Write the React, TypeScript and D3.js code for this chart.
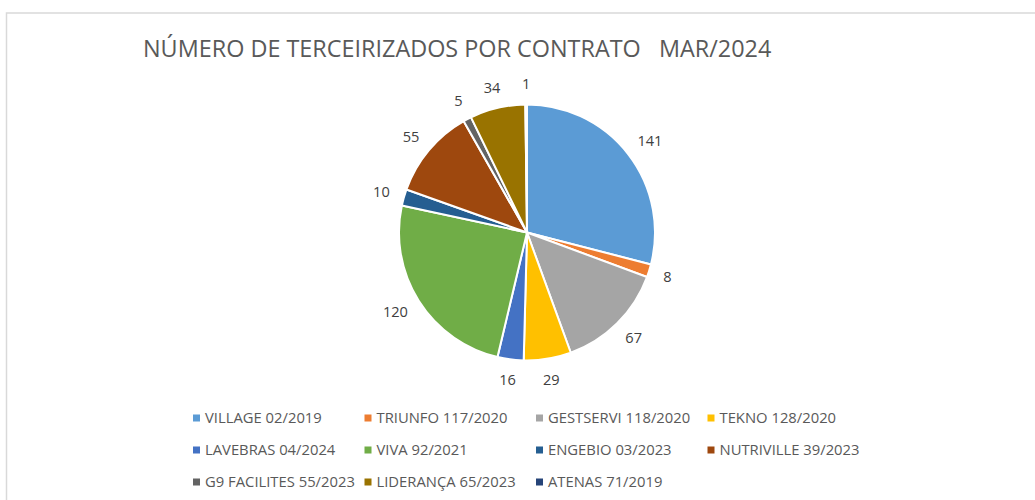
import React from "react";
import * as d3 from "d3";

const title = "NÚMERO DE TERCEIRIZADOS POR CONTRATO   MAR/2024";
const categories = [
  "VILLAGE 02/2019",
  "TRIUNFO 117/2020",
  "GESTSERVI 118/2020",
  "TEKNO 128/2020",
  "LAVEBRAS 04/2024",
  "VIVA 92/2021",
  "ENGEBIO 03/2023",
  "NUTRIVILLE 39/2023",
  "G9 FACILITES 55/2023",
  "LIDERANÇA 65/2023",
  "ATENAS 71/2019",
];
const values = [141, 8, 67, 29, 16, 120, 10, 55, 5, 34, 1];
const colors = [
  "#5B9BD5",
  "#ED7D31",
  "#A5A5A5",
  "#FFC000",
  "#4472C4",
  "#70AD47",
  "#255E91",
  "#9E480E",
  "#636363",
  "#997300",
  "#264478",
];

const W = 1035;
const H = 500;
const cx = 527;
const cy = 232.5;
const R = 128;
const FONT = "'Open Sans', 'Liberation Sans', sans-serif";

export default function App() {
  const pie = d3
    .pie<number>()
    .sort(null)
    .value((d) => d)
    .startAngle(0)
    .endAngle(2 * Math.PI);
  const arcs = pie(values);
  const arcGen = d3.arc<d3.PieArcDatum<number>>().innerRadius(0).outerRadius(R);

  const labelFs = 14.6;
  const labelGap = 15;

  const legendX0 = 193;
  const legendColW = 171.5;
  const legendY0 = 418;
  const legendRowH = 32;
  const legendCols = 4;

  return (
    <svg
      width={W}
      height={H}
      style={{ position: "absolute", left: 0, top: 0, background: "#fff" }}
    >
      <rect x={0} y={0} width={W} height={H} fill="#fff" />
      <rect
        x={6.5}
        y={13}
        width={W + 50}
        height={H + 50}
        fill="#fff"
        stroke="#d9d9d9"
        strokeWidth={1.5}
      />
      <text
        x={143}
        y={57}
        fontFamily={FONT}
        fontSize={23.4}
        fill="#595959"
        style={{ whiteSpace: "pre" }}
      >
        {title}
      </text>
      <g transform={`translate(${cx},${cy})`}>
        {arcs.map((a, i) => (
          <path
            key={i}
            d={arcGen(a) || ""}
            fill={colors[i]}
            stroke="#fff"
            strokeWidth={2}
            strokeLinejoin="round"
          />
        ))}
        {arcs.map((a, i) => {
          const mid = (a.startAngle + a.endAngle) / 2;
          const s = Math.sin(mid);
          const c = Math.cos(mid);
          const txt = String(values[i]);
          const w = txt.length * labelFs * 0.572;
          const h = 12;
          const rr = R + labelGap;
          const x = s * rr + (s * w) / 2;
          const y = -c * rr - (c * h) / 2;
          return (
            <text
              key={"l" + i}
              x={x}
              y={y + 5}
              textAnchor="middle"
              fontFamily={FONT}
              fontSize={labelFs}
              fill="#404040"
            >
              {txt}
            </text>
          );
        })}
      </g>
      <g>
        {categories.map((name, i) => {
          const col = i % legendCols;
          const row = Math.floor(i / legendCols);
          const x = legendX0 + col * legendColW;
          const y = legendY0 + row * legendRowH;
          return (
            <g key={"lg" + i}>
              <rect x={x} y={y - 3.5} width={7} height={7} fill={colors[i]} />
              <text
                x={x + 12}
                y={y + 5.3}
                fontFamily={FONT}
                fontSize={14.8}
                fill="#595959"
              >
                {name}
              </text>
            </g>
          );
        })}
      </g>
    </svg>
  );
}
